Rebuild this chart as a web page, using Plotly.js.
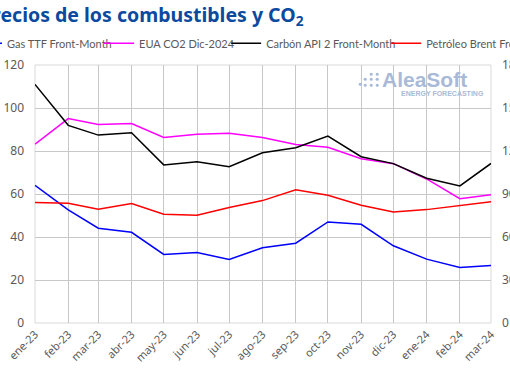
<!DOCTYPE html>
<html>
<head>
<meta charset="utf-8">
<script src="https://cdn.plot.ly/plotly-3.0.1.min.js"></script>
<style>html,body{margin:0;padding:0;background:#fff;}#chart{width:510px;height:382px;}</style>
</head>
<body>
<div id="chart"></div>
<script>
const months = ['2023-01-01','2023-02-01','2023-03-01','2023-04-01','2023-05-01','2023-06-01','2023-07-01','2023-08-01','2023-09-01','2023-10-01','2023-11-01','2023-12-01','2024-01-01','2024-02-01','2024-03-01'];
const tickLabels = ['ene-23','feb-23','mar-23','abr-23','may-23','jun-23','jul-23','ago-23','sep-23','oct-23','nov-23','dic-23','ene-24','feb-24','mar-24'];
const gasTTF = [64.0,52.6,44.1,42.2,31.9,32.8,29.5,35.0,37.1,47.0,45.9,35.9,29.7,25.8,26.8];
const euaCO2 = [83.2,95.1,92.3,92.8,86.3,87.8,88.3,86.3,83.0,81.7,76.4,74.1,67.0,57.8,59.7];
const coalAPI2 = [166.5,137.9,131.1,132.8,110.3,112.5,109.1,118.8,122.3,130.4,116.0,111.2,101.0,95.6,111.3];
const brent = [84.0,83.6,79.4,83.3,75.9,75.2,80.6,85.4,92.9,89.1,82.1,77.4,79.1,81.9,84.6];
const leftTicks = [0,20,40,60,80,100,120];
const rightTicks = [0,30,60,90,120,150,180];

const lw = 1.5;
const traces = [
  {x: months, y: gasTTF, name: 'Gas TTF Front-Month', type: 'scatter', mode: 'lines', line: {color: '#0000ff', width: lw}, yaxis: 'y', legend: 'legend'},
  {x: months, y: euaCO2, name: 'EUA CO2 Dic-2024', type: 'scatter', mode: 'lines', line: {color: '#ff00ff', width: lw}, yaxis: 'y', legend: 'legend2'},
  {x: months, y: coalAPI2, name: 'Carbón API 2 Front-Month', type: 'scatter', mode: 'lines', line: {color: '#000000', width: lw}, yaxis: 'y2', legend: 'legend3'},
  {x: months, y: brent, name: 'Petróleo Brent Front-Month', type: 'scatter', mode: 'lines', line: {color: '#ff0000', width: lw}, yaxis: 'y2', legend: 'legend4'}
];

const grey = '#595959';
const gridc = '#c8c8c8';
const tf = {family: 'Noto Sans, Open Sans, sans-serif', size: 12, color: grey};

const pl = 35, pw = 455.7, pt = 64.7, ph = 258.6;
const px2x = p => (p - pl) / pw;
const py2y = p => 1 - (p - pt) / ph;

function legendAt(leftPx) {
  return {orientation: 'h', x: px2x(leftPx), y: py2y(43), xanchor: 'left', yanchor: 'middle',
    font: {family: 'Lato, Noto Sans, sans-serif', size: 11, color: grey}, itemwidth: 30,
    bgcolor: 'rgba(0,0,0,0)', borderwidth: 0};
}

// watermark dots (decoration)
const dots = [[360,84],[365,79],[365,85],[371,74],[371,79],[371,85],[377,74],[377,79],[377,85]];
const shapes = dots.map(d => ({
  type: 'circle', xref: 'paper', yref: 'paper', line: {width: 0}, fillcolor: '#a9bad8',
  x0: px2x(d[0]-1.6), x1: px2x(d[0]+1.6), y0: py2y(d[1]+1.6), y1: py2y(d[1]-1.6)
}));

const layout = {
  width: 510, height: 382,
  margin: {l: 35, r: 19.3, t: 64.7, b: 58.7, autoexpand: false},
  paper_bgcolor: '#ffffff', plot_bgcolor: '#ffffff',
  showlegend: true,
  legend: legendAt(-33),
  legend2: legendAt(99),
  legend3: legendAt(226),
  legend4: legendAt(386),
  xaxis: {
    type: 'date', range: [months[0], months[months.length-1]],
    tickvals: months, ticktext: tickLabels, tickangle: -45,
    showgrid: true, gridcolor: gridc, gridwidth: 1,
    showline: false, zeroline: false, ticks: '', tickfont: {family: 'Noto Sans, sans-serif', size: 11, color: grey},
    ticklabelstandoff: 2, fixedrange: true
  },
  yaxis: {
    range: [0, 120], tickvals: leftTicks, showgrid: true, gridcolor: gridc, gridwidth: 1,
    zeroline: false, showline: false, ticks: '', tickfont: tf, ticklabelstandoff: 10
  },
  yaxis2: {
    range: [0, 180], tickvals: rightTicks, overlaying: 'y', side: 'right', showgrid: false,
    zeroline: false, showline: false, ticks: '', tickfont: tf, ticklabelstandoff: 10
  },
  shapes: shapes.concat([
    {type: 'rect', xref: 'paper', yref: 'paper', x0: 0, x1: 1, y0: 0, y1: 1, line: {color: '#d9d9d9', width: 1}, layer: 'below'}
  ]),
  annotations: [
    {text: '<b>Precios de los combustibles y CO<sub>2</sub></b>', xref: 'paper', yref: 'paper',
     x: px2x(-22), y: py2y(15), xanchor: 'left', yanchor: 'middle', showarrow: false,
     font: {family: 'Noto Sans, sans-serif', size: 19.5, color: '#0b4a9e'}},
    {text: '<b>AleaSoft</b>', xref: 'paper', yref: 'paper', x: px2x(380), y: py2y(79),
     xanchor: 'left', yanchor: 'middle', showarrow: false,
     font: {family: 'Liberation Sans, Arial, sans-serif', size: 21, color: '#a9bad8'}},
    {text: '<b>ENERGY FORECASTING</b>', xref: 'paper', yref: 'paper', x: px2x(399), y: py2y(93),
     xanchor: 'left', yanchor: 'middle', showarrow: false,
     font: {family: 'Liberation Sans, Arial, sans-serif', size: 7, color: '#a9bad8'}}
  ]
};

Plotly.newPlot('chart', traces, layout, {displayModeBar: false, staticPlot: true});
</script>
</body>
</html>
